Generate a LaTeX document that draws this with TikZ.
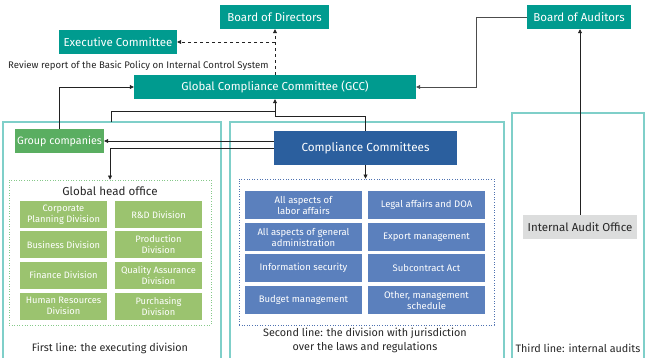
\documentclass[tikz,border=0pt]{standalone}
\usepackage{fontspec}
\setmainfont{Fira Sans}
\usetikzlibrary{arrows.meta,calc}
\definecolor{teal}{HTML}{009B8F}
\definecolor{grpgreen}{HTML}{5AAE61}
\definecolor{divgreen}{HTML}{9BC36F}
\definecolor{ccblue}{HTML}{2B5F9E}
\definecolor{divblue}{HTML}{5B80BD}
\definecolor{auditgray}{HTML}{DCDDDD}
\definecolor{panelline}{HTML}{7FCFC9}
\definecolor{dotgreen}{HTML}{86C98A}
\definecolor{dotblue}{HTML}{4F72B0}
\definecolor{wire}{HTML}{222222}
\tikzset{
  box/.style={rectangle, inner sep=0pt, align=center, text=white, font=\fontsize{11.5}{13}\selectfont},
  tealbox/.style={box, fill=teal},
  divbox/.style={box, fill=divgreen, minimum width=87pt, minimum height=27pt, font=\fontsize{9.3}{11}\selectfont},
  bluebox/.style={box, fill=divblue, minimum width=117pt, minimum height=28pt, font=\fontsize{9.5}{11}\selectfont},
  panel/.style={draw=panelline, line width=1.2pt},
  wirel/.style={draw=wire, line width=0.7pt},
  arr/.style={wirel, -{Triangle[length=4pt,width=4pt]}},
  caption/.style={align=center, text=black!85, font=\fontsize{10.8}{14}\selectfont},
}
\begin{document}
\begin{tikzpicture}[x=1pt,y=-1pt]
\useasboundingbox (0,0) rectangle (648,357);

% three lines of defence panels
\draw[panel] (3,370) -- (3,122) -- (221,122) -- (221,370);
\draw[panel] (230,370) -- (230,122) -- (504,122) -- (504,370);
\draw[panel] (512,370) -- (512,113) -- (644,113) -- (644,370);
\coordinate (p1) at (111,122);

% top level bodies
\node[tealbox, minimum width=109pt, minimum height=24pt] (bod) at (274.5,17) {Board of Directors};
\node[tealbox, minimum width=118pt, minimum height=24pt] (exec) at (118,42) {Executive Committee};
\node[tealbox, minimum width=104pt, minimum height=24pt] (boa) at (579,17) {Board of Auditors};
\node[tealbox, minimum width=282pt, minimum height=24pt] (gcc) at (275,87) {Global Compliance Committee (GCC)};
\node[anchor=west, inner sep=0pt, text=black!85, font=\fontsize{9.6}{11}\selectfont] (review) at (8,66) {Review report of the Basic Policy on Internal Control System};

% first line
\node[box, fill=grpgreen, minimum width=89pt, minimum height=24pt, font=\fontsize{10.7}{12}\selectfont] (grp) at (59.5,141) {Group companies};
\node[draw=dotgreen, line width=0.9pt, dash pattern=on 1pt off 1.6pt, minimum width=202pt, minimum height=145pt, inner sep=0pt] (gho) at (110,252.5) {};
\node[caption, font=\fontsize{11.6}{13}\selectfont] (ghot) at (110,191) {Global head office};
\node[divbox] (d1) at (63.5,214.5) {Corporate\\Planning Division};
\node[divbox] (d2) at (158.5,214.5) {R\&D Division};
\node[divbox] (d3) at (63.5,244.5) {Business Division};
\node[divbox] (d4) at (158.5,244.5) {Production\\Division};
\node[divbox] (d5) at (63.5,275) {Finance Division};
\node[divbox] (d6) at (158.5,275) {Quality Assurance\\Division};
\node[divbox] (d7) at (63.5,306) {Human Resources\\Division};
\node[divbox] (d8) at (158.5,306) {Purchasing\\Division};
\node[caption] (c1) at (110,348) {First line: the executing division};

% second line
\node[box, fill=ccblue, minimum width=183pt, minimum height=34pt, font=\fontsize{11.7}{13}\selectfont] (cc) at (365.5,148) {Compliance Committees};
\node[draw=dotblue, line width=0.9pt, dash pattern=on 1pt off 1.6pt, minimum width=255pt, minimum height=146pt, inner sep=0pt] (jur) at (366.5,252) {};
\node[bluebox] (b1) at (303.5,205) {All aspects of\\labor affairs};
\node[bluebox] (b2) at (426.5,205) {Legal affairs and DOA};
\node[bluebox] (b3) at (303.5,237) {All aspects of general\\administration};
\node[bluebox] (b4) at (426.5,237) {Export management};
\node[bluebox] (b5) at (303.5,268) {Information security};
\node[bluebox] (b6) at (426.5,268) {Subcontract Act};
\node[bluebox] (b7) at (303.5,300) {Budget management};
\node[bluebox] (b8) at (426.5,300) {Other, management\\schedule};
\node[caption] (c2) at (365,340) {Second line: the division with jurisdiction\\over the laws and regulations};

% third line
\node[box, fill=auditgray, text=black!85, minimum width=114pt, minimum height=24pt] (iao) at (580,227) {Internal Audit Office};
\node[caption] (c3) at (578,348) {Third line: internal audits};

% reporting lines
\draw[wirel, dashed, -{Triangle[length=4pt,width=4pt]}] (gcc.north) -- (gcc.north |- bod.south);
\draw[wirel, dashed, -{Triangle[length=4pt,width=4pt]}] (gcc.north |- exec.east) -- (exec.east);
\draw[arr, draw=black!70] (boa.west) -- ++(-50,0) |- (gcc.east);
\draw[arr] (iao.north) -- (iao.north |- boa.south);
\draw[arr] (grp.north) |- (gcc.west);
\coordinate (j) at ($(gcc.south)+(0,12)$);
\draw[arr] (cc.north) -- ++(0,-14) -| (gcc.south);
\draw[wirel] (p1) |- (j);
\draw[arr] (cc.west |- grp.east) -- (grp.east);
\draw[arr] (cc.west) -| (gho.north);
\draw[arr] (cc.south) -- (cc.south |- jur.north);
\end{tikzpicture}
\end{document}
